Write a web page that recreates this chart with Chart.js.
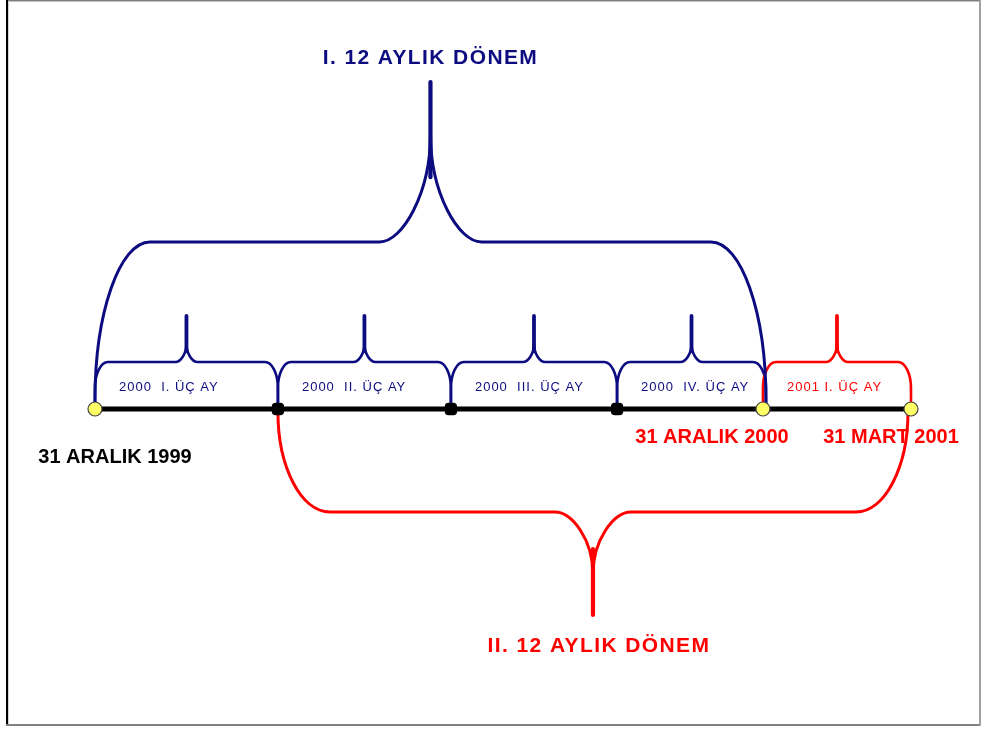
<!DOCTYPE html>
<html><head><meta charset="utf-8">
<script src="https://cdn.jsdelivr.net/npm/chart.js@4/dist/chart.umd.min.js"></script>
<style>html,body{margin:0;padding:0;background:#fff;overflow:hidden}canvas{display:block}</style>
</head><body>
<canvas id="c" width="981" height="729"></canvas>
<script>
// ---------- DATA ----------
// position of each timeline node, in quarter units along the time axis
const nodePositions = [0, 1.121, 2.181, 3.199, 4.093, 5];
// node kind: 'date' = yellow milestone, 'q' = quarter boundary
const nodeKinds = ['date', 'q', 'q', 'q', 'date', 'date'];
// date captions under the nodes
const dateLabels = ['31 ARALIK 1999', '', '', '', '31 ARALIK 2000', '31 MART 2001'];
// the five quarters (between consecutive nodes)
const quarterLabels = ['2000  I. ÜÇ AY', '2000  II. ÜÇ AY', '2000  III. ÜÇ AY', '2000  IV. ÜÇ AY', '2001 I. ÜÇ AY'];
// the two 12-month periods (start node, end node)
const periodLabels = ['I. 12 AYLIK DÖNEM', 'II. 12 AYLIK DÖNEM'];
const periodStartNode = [0, 1];
const periodEndNode = [4, 5];

// ---------- STYLE ----------
const NAVY = '#0c0c80', RED = '#ff0000', YELLOW = '#ffff66';
const FONT = "'Liberation Sans', Arial, sans-serif";

function brace(ctx, xL, xR, yEnd, yLevel, yTip, cw, ch, sw, sh, color, lw) {
  const d = Math.sign(yLevel - yEnd);
  const xm = (xL + xR) / 2;
  const k = 0.5523;
  ctx.save();
  ctx.strokeStyle = color; ctx.lineWidth = lw; ctx.lineJoin = 'round'; ctx.lineCap = 'round';
  ctx.beginPath();
  ctx.moveTo(xL, yEnd);
  ctx.lineTo(xL, yLevel - d * ch);
  ctx.bezierCurveTo(xL, yLevel - d * ch * (1 - k), xL + cw * (1 - k), yLevel, xL + cw, yLevel);
  ctx.lineTo(xm - sw, yLevel);
  ctx.bezierCurveTo(xm - sw * 0.55, yLevel, xm, yLevel + d * sh * 0.45, xm, yLevel + d * sh);
  ctx.bezierCurveTo(xm, yLevel + d * sh * 0.45, xm + sw * 0.55, yLevel, xm + sw, yLevel);
  ctx.lineTo(xR - cw, yLevel);
  ctx.bezierCurveTo(xR - cw * (1 - k), yLevel, xR, yLevel - d * ch * (1 - k), xR, yLevel - d * ch);
  ctx.lineTo(xR, yEnd);
  ctx.stroke();
  ctx.lineWidth = lw + 1.2;
  ctx.beginPath();
  ctx.moveTo(xm, yLevel + d * sh * 0.6);
  ctx.lineTo(xm, yTip);
  ctx.stroke();
  ctx.restore();
  return xm;
}

function txt(ctx, s, x, y, font, color, align, spacing) {
  ctx.save();
  ctx.font = font; ctx.fillStyle = color; ctx.textAlign = align || 'center'; ctx.textBaseline = 'middle';
  ctx.letterSpacing = spacing || '0px';
  ctx.fillText(s, x, y);
  ctx.restore();
}

const timelinePlugin = {
  id: 'timeline',
  beforeDatasetsDraw(chart) {
    const ctx = chart.ctx, sx = chart.scales.x, sy = chart.scales.y;
    const px = i => sx.getPixelForValue(nodePositions[i]);
    const py = v => sy.getPixelForValue(v);
    // quarter braces
    for (let i = 0; i < quarterLabels.length; i++) {
      const inFirst = i + 1 <= periodEndNode[0];
      const color = inFirst ? NAVY : RED;
      const xL = px(i);
      const xR = px(i + 1) + (i === 3 ? 3 : 0);
      brace(ctx, xL, xR, py(4), py(47), py(93), 13, 26, 11, 18, color, 2.6);
      txt(ctx, quarterLabels[i], px(i) + 24, py(22), '13px ' + FONT, color, 'left', '1px');
    }
    // first 12-month period (above)
    {
      const xL = px(periodStartNode[0]), xR = px(periodEndNode[0]) + 3;
      const xm = brace(ctx, xL, xR, py(4), py(167), py(327), 55, 158, 51, 108, NAVY, 3);
      txt(ctx, periodLabels[0], xm, py(351), 'bold 21px ' + FONT, NAVY, 'center', '1.4px');
    }
    // second 12-month period (below)
    {
      const xL = px(periodStartNode[1]), xR = px(periodEndNode[1]) - 3;
      const xm = brace(ctx, xL, xR, py(-2), py(-103), py(-206), 52, 100, 38, 62, RED, 3);
      txt(ctx, periodLabels[1], xm + 6, py(-237), 'bold 21px ' + FONT, RED, 'center', '1.4px');
    }
  },
  afterDatasetsDraw(chart) {
    const ctx = chart.ctx, sx = chart.scales.x, sy = chart.scales.y;
    const px = i => sx.getPixelForValue(nodePositions[i]);
    const py = v => sy.getPixelForValue(v);
    const offs = [[20, -48], null, null, null, [-51, -28], [-20, -28]];
    dateLabels.forEach((s, i) => {
      if (!s) return;
      const o = offs[i];
      txt(ctx, s, px(i) + o[0], py(o[1]), 'bold 20px ' + FONT, i === 0 ? '#000' : RED, 'center', '0px');
    });
  },
  afterDraw(chart) {
    const ctx = chart.ctx;
    ctx.save();
    ctx.fillStyle = '#7f7f7f'; ctx.fillRect(8, 0, 973, 1.5);
    ctx.fillStyle = '#000'; ctx.fillRect(6, 0, 2, 726);
    ctx.fillStyle = '#d4d4d4'; ctx.fillRect(8, 1, 1, 723);
    ctx.fillStyle = '#808080'; ctx.fillRect(6, 724, 975, 2);
    ctx.fillStyle = '#a0a0a0'; ctx.fillRect(979, 0, 2, 726);
    ctx.restore();
  }
};

new Chart(document.getElementById('c'), {
  type: 'scatter',
  data: {
    datasets: [{
      data: nodePositions.map(x => ({ x: x, y: 0 })),
      showLine: true,
      borderColor: '#000',
      borderWidth: 5,
      pointStyle: nodeKinds.map(k => k === 'date' ? 'circle' : 'rectRounded'),
      pointRadius: nodeKinds.map(k => k === 'date' ? 7 : 6.5),
      pointBackgroundColor: nodeKinds.map(k => k === 'date' ? YELLOW : '#000'),
      pointBorderColor: nodeKinds.map(k => k === 'date' ? '#444' : '#000'),
      pointBorderWidth: 1.2,
      clip: false
    }]
  },
  options: {
    responsive: false,
    animation: false,
    events: [],
    layout: { padding: 0, autoPadding: false },
    plugins: { legend: { display: false }, tooltip: { enabled: false } },
    scales: {
      x: { type: 'linear', min: -0.582, max: 5.429, display: false },
      y: { type: 'linear', min: -320, max: 409, display: false }
    }
  },
  plugins: [timelinePlugin]
});
</script>
</body></html>
